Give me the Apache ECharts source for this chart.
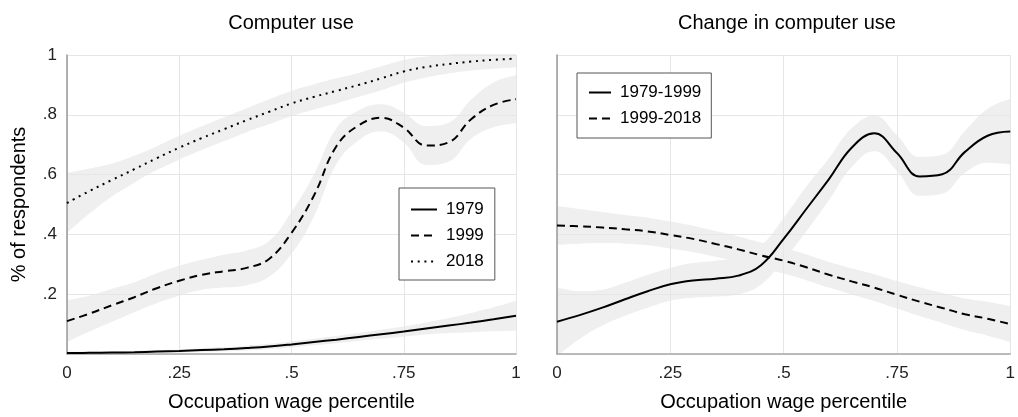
<!DOCTYPE html>
<html><head><meta charset="utf-8">
<script src="https://cdn.jsdelivr.net/npm/echarts@6/dist/echarts.min.js"></script>
<style>html,body{margin:0;padding:0;background:#fff}#c{width:1018px;height:417px}</style>
</head><body><div id="c"></div>
<script>
// x positions (occupation wage percentile)
const xs = [0,0.05,0.1,0.15,0.2,0.25,0.3,0.35,0.4,0.45,0.5,0.55,0.6,0.65,0.7,0.75,0.8,0.85,0.9,0.95,1];
const xTickLabels = {'0':'0','0.25':'.25','0.5':'.5','0.75':'.75','1':'1'};
const yTicks = ['', '.2', '.4', '.6', '.8', '1'];

// Left panel: computer use by year
const use1979 = [0.003,0.004,0.005,0.006,0.008,0.01,0.013,0.016,0.02,0.025,0.032,0.04,0.048,0.057,0.066,0.075,0.085,0.095,0.105,0.116,0.128];
const ci1979  = [0.004,0.004,0.004,0.005,0.005,0.005,0.006,0.007,0.008,0.009,0.01,0.011,0.012,0.013,0.015,0.017,0.02,0.025,0.032,0.04,0.05];
const use1999 = [0.11,0.135,0.163,0.19,0.22,0.245,0.265,0.277,0.288,0.318,0.405,0.53,0.695,0.765,0.79,0.757,0.697,0.708,0.785,0.833,0.852];
const ci1999  = [0.07,0.06,0.055,0.05,0.05,0.05,0.05,0.055,0.058,0.06,0.07,0.07,0.06,0.05,0.045,0.05,0.065,0.065,0.065,0.075,0.08];
const use2018 = [0.505,0.545,0.582,0.618,0.655,0.69,0.722,0.752,0.782,0.81,0.838,0.86,0.88,0.90,0.922,0.945,0.96,0.97,0.978,0.984,0.988];
const ci2018  = [0.1,0.075,0.055,0.045,0.04,0.04,0.04,0.04,0.04,0.042,0.042,0.042,0.042,0.04,0.04,0.038,0.035,0.032,0.03,0.03,0.03];

// Right panel: change in computer use
const chg7999 = [0.108,0.13,0.155,0.183,0.21,0.233,0.246,0.252,0.262,0.297,0.385,0.485,0.585,0.69,0.738,0.672,0.594,0.601,0.676,0.73,0.744];
const ciC7999 = [0.115,0.08,0.06,0.055,0.055,0.055,0.058,0.06,0.062,0.065,0.07,0.075,0.07,0.065,0.06,0.06,0.065,0.065,0.07,0.09,0.11];
const chg9918 = [0.43,0.427,0.423,0.417,0.41,0.398,0.385,0.368,0.35,0.33,0.312,0.29,0.265,0.243,0.222,0.198,0.175,0.154,0.133,0.118,0.10];
const ciC9918 = [0.065,0.058,0.052,0.048,0.046,0.045,0.044,0.043,0.043,0.043,0.043,0.043,0.043,0.044,0.045,0.046,0.048,0.05,0.053,0.057,0.06];

const FONT = '"Liberation Sans", Arial, Helvetica, sans-serif';
const BAND = '#efefef';
const SMOOTH = 0.42;

function bandSeries(id, vals, ci, gi) {
  return [
    {type:'line', name:id+'_lo', xAxisIndex:gi, yAxisIndex:gi, stack:id, stackStrategy:'all',
     data: vals.map((v,i)=>v-ci[i]), symbol:'none', smooth:SMOOTH, silent:true,
     lineStyle:{opacity:0}, z:-1},
    {type:'line', name:id+'_band', xAxisIndex:gi, yAxisIndex:gi, stack:id, stackStrategy:'all',
     data: ci.map(c=>2*c), symbol:'none', smooth:SMOOTH, silent:true,
     lineStyle:{opacity:0}, areaStyle:{color:BAND, opacity:1}, z:-1}
  ];
}
function lineSeries(name, vals, gi, type) {
  return {type:'line', name:name, xAxisIndex:gi, yAxisIndex:gi,
    data: vals.slice(), symbol:'none', smooth:SMOOTH,
    lineStyle:{color:'#000', width:2, type:type, cap:'butt'}, itemStyle:{color:'#000'}, z:3};
}

function xAxis(gi) {
  return {gridIndex:gi, type:'category', data:xs.map(String), boundaryGap:false,
    axisLine:{show:true, onZero:false, lineStyle:{color:'#a8a8a8', width:1.5}},
    axisTick:{show:false},
    axisLabel:{interval:4, fontSize:17, color:'#222', margin:11, fontFamily:FONT,
      formatter:(v)=>xTickLabels[v] || ''},
    splitLine:{show:true, interval:4, lineStyle:{color:'#e6e6e6', width:1}},
    name:'Occupation wage percentile', nameLocation:'middle', nameGap:38,
    nameTextStyle:{fontSize:20, color:'#000', fontFamily:FONT}};
}
function yAxis(gi, labels) {
  const a = {gridIndex:gi, type:'value', min:0, max:1, interval:0.2,
    axisLine:{show:true, onZero:false, lineStyle:{color:'#999', width:1.5}},
    axisTick:{show:false},
    axisLabel:{show:labels, fontSize:17, color:'#222', margin:10, fontFamily:FONT,
      formatter:(v)=>yTicks[Math.round(v*5)]},
    splitLine:{show:true, lineStyle:{color:'#e6e6e6', width:1}}};
  if (labels) {
    a.name = '% of respondents'; a.nameLocation = 'middle'; a.nameGap = 38;
    a.nameTextStyle = {fontSize:20, color:'#000', fontFamily:FONT};
  }
  return a;
}

const legendCommon = {orient:'vertical', backgroundColor:'#fff', borderColor:'#555', borderWidth:1,
  borderRadius:0, itemHeight:14, itemGap:9, itemStyle:{opacity:0},
  textStyle:{fontSize:17, color:'#000', fontFamily:FONT, padding:[0,0,0,4]}};

const option = {
  animation:false,
  backgroundColor:'#fff',
  textStyle:{fontFamily:FONT},
  title:[
    {text:'Computer use', left:286, top:8, textAlign:'center',
     textStyle:{fontSize:20, fontWeight:'normal', color:'#000', fontFamily:FONT}},
    {text:'Change in computer use', left:782, top:8, textAlign:'center',
     textStyle:{fontSize:20, fontWeight:'normal', color:'#000', fontFamily:FONT}}
  ],
  grid:[
    {left:67, top:55, width:449, height:304},
    {left:557, top:55, width:459, height:304}
  ],
  xAxis:[xAxis(0), xAxis(1)],
  yAxis:[yAxis(0,true), yAxis(1,false)],
  legend:[
    Object.assign({}, legendCommon, {data:['1979','1999','2018'], left:399, top:188,
      itemWidth:26, padding:[13,11,10,11]}),
    Object.assign({}, legendCommon, {data:['1979-1999','1999-2018'], left:577, top:73,
      itemWidth:22, padding:[11,10,11,11]})
  ],
  series:[
    ...bandSeries('b1979', use1979, ci1979, 0),
    ...bandSeries('b1999', use1999, ci1999, 0),
    ...bandSeries('b2018', use2018, ci2018, 0),
    ...bandSeries('c7999', chg7999, ciC7999, 1),
    ...bandSeries('c9918', chg9918, ciC9918, 1),
    lineSeries('1979', use1979, 0, 'solid'),
    lineSeries('1999', use1999, 0, [8,5]),
    lineSeries('2018', use2018, 0, [2,4.7]),
    lineSeries('1979-1999', chg7999, 1, 'solid'),
    lineSeries('1999-2018', chg9918, 1, [8,5])
  ]
};
const chart = echarts.init(document.getElementById('c'), null, {renderer:'canvas'});
chart.setOption(option);
</script></body></html>
